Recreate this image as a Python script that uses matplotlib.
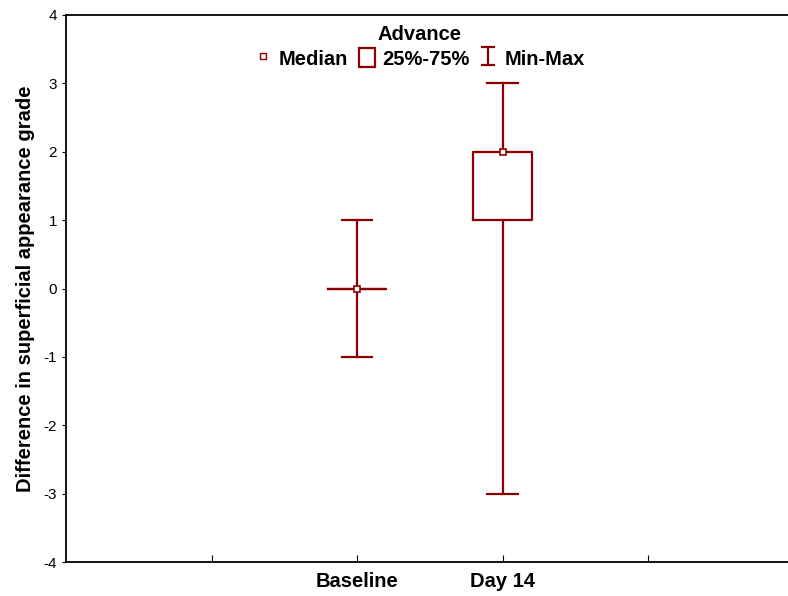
import matplotlib
matplotlib.use('Agg')
import matplotlib.pyplot as plt
from matplotlib.path import Path
from matplotlib.lines import Line2D
from matplotlib.patches import Patch

plt.rcParams['font.family'] = ['Liberation Sans', 'DejaVu Sans']
plt.rcParams['axes.unicode_minus'] = False

# data
groups = ['Baseline', 'Day 14']
positions = [2, 3]
medians = [0, 2]
q1 = [0, 1]
q3 = [0, 2]
mins = [-1, -3]
maxs = [1, 3]

color = '#8b0000'

fig = plt.figure(figsize=(7.88, 5.96), dpi=100)
ax = fig.add_axes([66 / 788, 34 / 596, 722 / 788, 547 / 596])

stats = []
for g, m, a, b, lo, hi in zip(groups, medians, q1, q3, mins, maxs):
    stats.append({'label': g, 'med': m, 'q1': a, 'q3': b, 'whislo': lo, 'whishi': hi, 'fliers': []})

lp = dict(color=color, linewidth=1.6)
ax.bxp(stats, positions=positions, widths=0.4, capwidths=0.21, showfliers=False,
       boxprops=lp, whiskerprops=lp, capprops=lp,
       medianprops=dict(linestyle='none'), manage_ticks=False)
ax.plot(positions, medians, 's', ms=5, mfc='white', mec=color, mew=1.2, ls='none', zorder=5)

ax.set_xlim(0, 722 / 145.5)
ax.set_ylim(-4, 4)
ax.set_xticks([1, 2, 3, 4])
ax.set_xticklabels(['', 'Baseline', 'Day 14', ''], fontsize=14.5, fontweight='bold')
ax.set_yticks(range(-4, 5))
ax.tick_params(axis='y', direction='out', length=3, labelsize=11)
ax.tick_params(axis='x', direction='in', length=5, pad=7)
ax.spines['right'].set_visible(False)
for s in ['left', 'bottom', 'top']:
    ax.spines[s].set_linewidth(1.3)

ax.set_ylabel('Difference in superficial appearance grade', fontsize=14.5, fontweight='bold', labelpad=6)

# legend
cap = Path([(-0.4, -0.5), (0.4, -0.5), (0, -0.5), (0, 0.5), (-0.4, 0.5), (0.4, 0.5)],
           [Path.MOVETO, Path.LINETO, Path.MOVETO, Path.LINETO, Path.MOVETO, Path.LINETO])
handles = [
    Line2D([], [], marker='s', ms=4, mfc='white', mec=color, mew=1, ls='none'),
    Patch(fc='white', ec=color, lw=1.6),
    Line2D([], [], marker=cap, ms=13, mec=color, mew=1.6, ls='none'),
]
leg = ax.legend(handles, ['Median', '25%-75%', 'Min-Max'], ncol=3, loc='upper center',
                bbox_to_anchor=(0.49, 1.0), frameon=False, title='Advance',
                prop={'weight': 'bold', 'size': 14.5}, handlelength=0.8, handleheight=1.1,
                handletextpad=0.4, columnspacing=0.5, borderaxespad=0.1, labelspacing=0.2)
leg.get_title().set_fontweight('bold')
leg.get_title().set_fontsize(14.5)

fig.savefig('out.png', dpi=100)
